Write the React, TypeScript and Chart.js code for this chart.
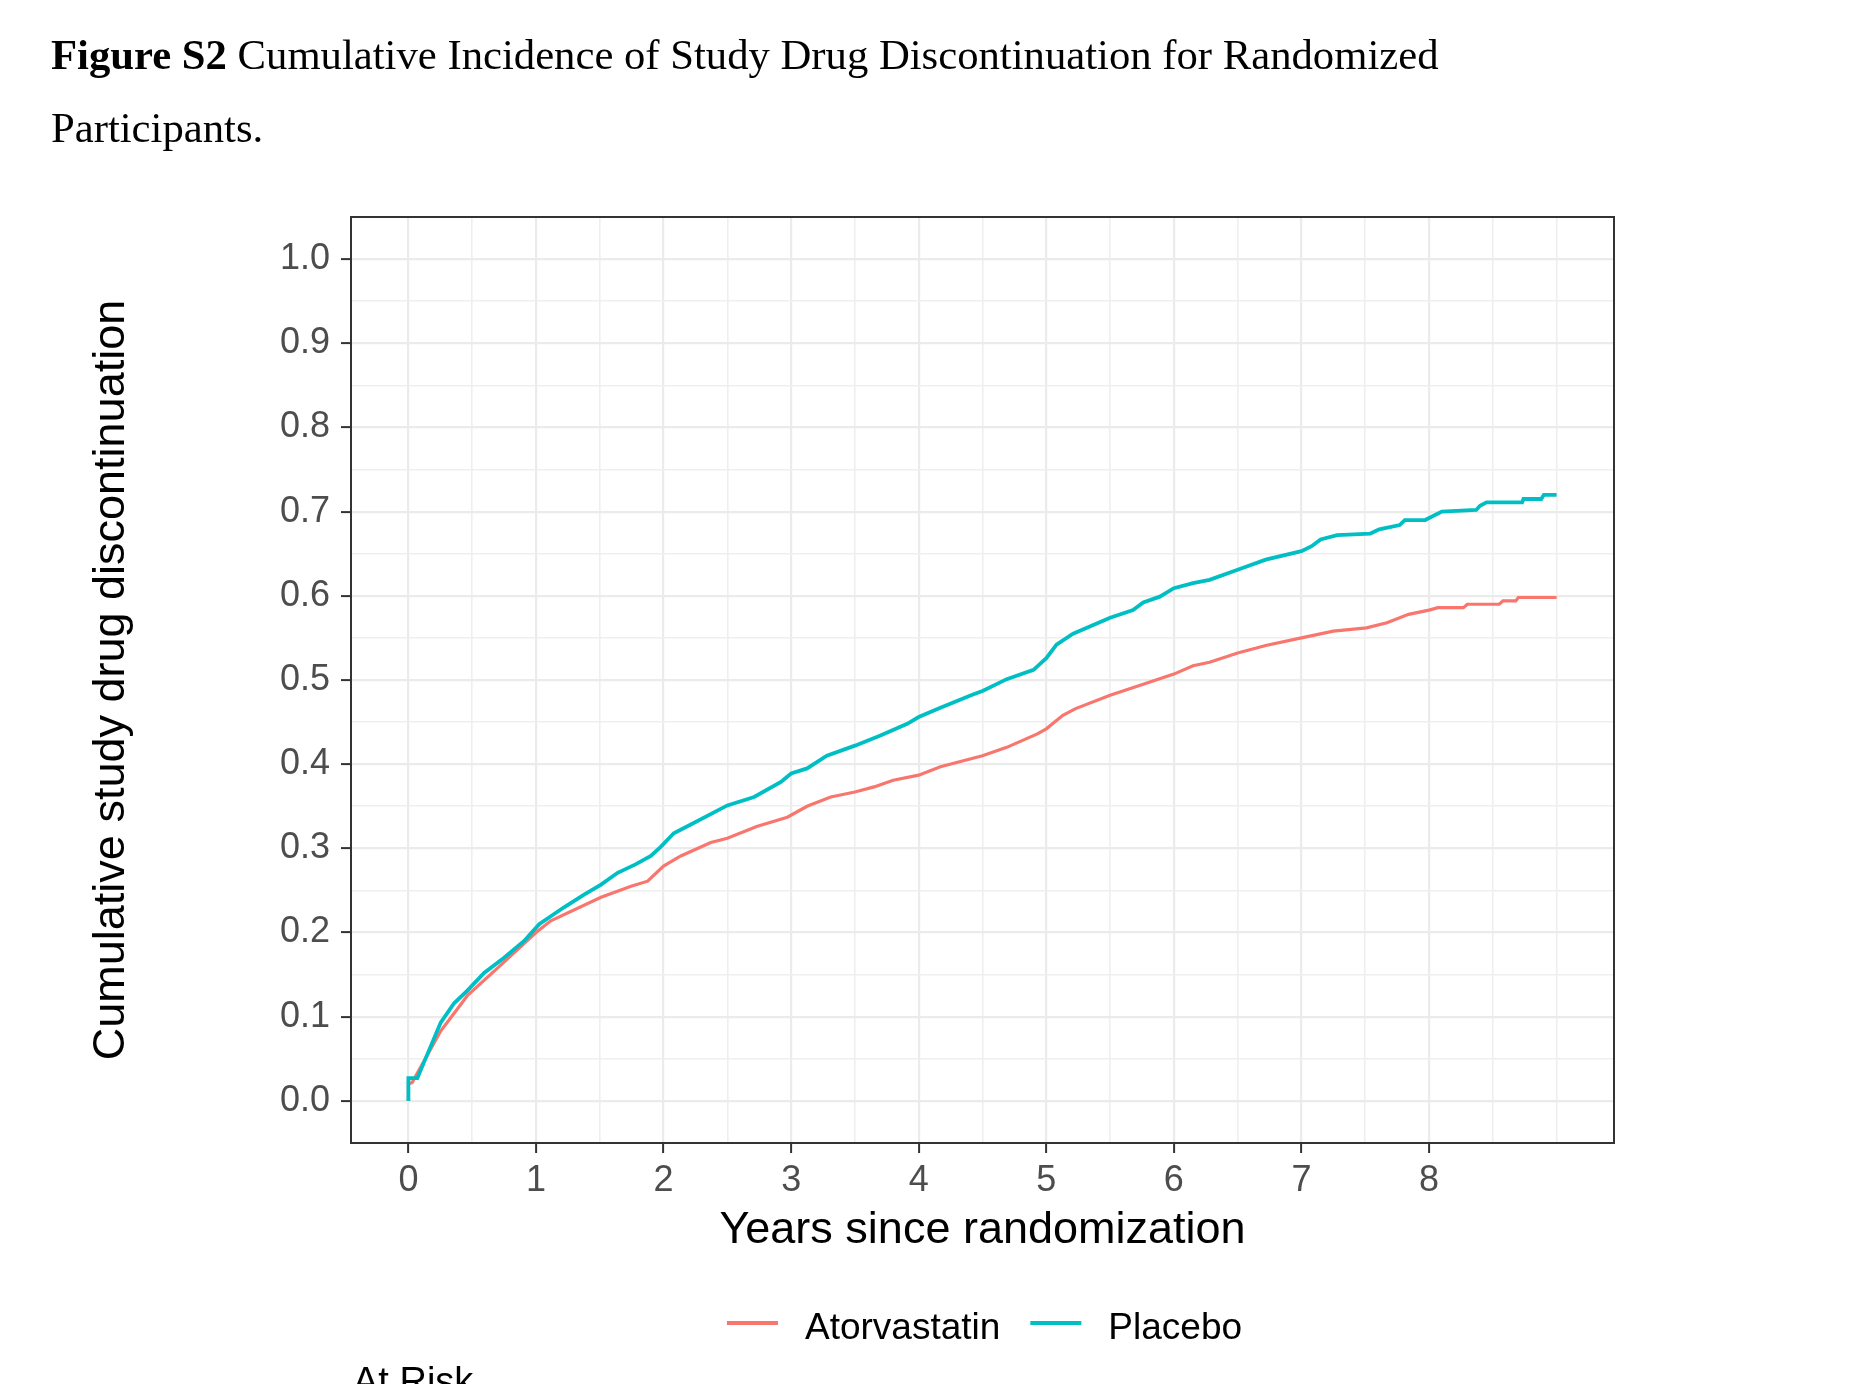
import React, { useEffect, useRef } from "react";
import { Chart, registerables } from "chart.js";

Chart.register(...registerables);

// series names / colours (ggplot defaults)
const seriesNames = ["Atorvastatin", "Placebo"];
const seriesColors = ["#F8766D", "#00BFC4"];

// cumulative incidence
const atorvastatinYears = [
  0, 0, 0.03, 0.253, 0.462, 0.7, 1.0, 1.116, 1.51, 1.745, 1.875, 2.0, 2.135, 2.37, 2.5,
  2.73, 2.97, 3.125, 3.31, 3.5, 3.65, 3.8, 4.0, 4.17, 4.5, 4.69, 4.93, 5.0, 5.13, 5.23,
  5.5, 5.76, 6.0, 6.15, 6.28, 6.5, 6.72, 7.0, 7.25, 7.51, 7.67, 7.84, 8.0, 8.07, 8.27,
  8.3, 8.55, 8.58, 8.68, 8.7, 9.0,
];
const atorvastatinIncidence = [
  0, 0.02, 0.022, 0.083, 0.125, 0.158, 0.2, 0.214, 0.242, 0.255, 0.261, 0.279, 0.291, 0.307, 0.312,
  0.326, 0.337, 0.35, 0.361, 0.367, 0.373, 0.381, 0.387, 0.397, 0.41, 0.42, 0.436, 0.442, 0.458, 0.466,
  0.482, 0.495, 0.507, 0.517, 0.521, 0.532, 0.541, 0.55, 0.558, 0.562, 0.568, 0.578, 0.583, 0.586, 0.586,
  0.59, 0.59, 0.594, 0.594, 0.598, 0.598,
];

const placeboYears = [
  0, 0, 0.07, 0.253, 0.358, 0.462, 0.593, 0.75, 0.907, 1.025, 1.22, 1.377, 1.51, 1.64, 1.78,
  1.9, 1.98, 2.08, 2.21, 2.5, 2.71, 2.92, 3.0, 3.125, 3.28, 3.5, 3.7, 3.91, 4.0, 4.17,
  4.43, 4.5, 4.69, 4.9, 5.0, 5.08, 5.21, 5.5, 5.68, 5.76, 5.89, 6.0, 6.15, 6.28, 6.5,
  6.72, 7.0, 7.08, 7.15, 7.28, 7.54, 7.61, 7.77, 7.81, 7.97, 8.1, 8.37, 8.4, 8.45, 8.73,
  8.74, 8.88, 8.9, 9.0,
];
const placeboIncidence = [
  0, 0.027, 0.027, 0.093, 0.116, 0.131, 0.152, 0.17, 0.19, 0.21, 0.23, 0.245, 0.257, 0.271, 0.281,
  0.291, 0.302, 0.318, 0.328, 0.351, 0.361, 0.379, 0.389, 0.395, 0.41, 0.422, 0.434, 0.448, 0.456, 0.467,
  0.483, 0.487, 0.501, 0.512, 0.526, 0.542, 0.555, 0.574, 0.583, 0.592, 0.599, 0.609, 0.615, 0.619, 0.631,
  0.643, 0.653, 0.659, 0.667, 0.672, 0.674, 0.679, 0.684, 0.69, 0.69, 0.7, 0.702, 0.707, 0.711, 0.711,
  0.715, 0.715, 0.72, 0.72,
];

// axis breaks
const xTickLabels = [0, 1, 2, 3, 4, 5, 6, 7, 8];
const xMinorBreaks = [0.5, 1.5, 2.5, 3.5, 4.5, 5.5, 6.5, 7.5, 8.5, 9];
const yTickLabels = [0, 0.1, 0.2, 0.3, 0.4, 0.5, 0.6, 0.7, 0.8, 0.9, 1.0];
const yMinorBreaks = [0.05, 0.15, 0.25, 0.35, 0.45, 0.55, 0.65, 0.75, 0.85, 0.95];

const sans = "'Liberation Sans', Arial, sans-serif";
const serif = "'Liberation Serif', 'Times New Roman', serif";

const toPoints = (xs: number[], ys: number[]) => xs.map((x, i) => ({ x, y: ys[i] }));
const inList = (list: number[], v: number) => list.some((t) => Math.abs(t - v) < 1e-6);

// panel border + legend under the x title
const panelPlugin = {
  id: "panelAndLegend",
  afterDraw(chart: any) {
    const { ctx, chartArea } = chart;
    ctx.save();
    ctx.strokeStyle = "#333333";
    ctx.lineWidth = 2;
    ctx.strokeRect(chartArea.left, chartArea.top, chartArea.right - chartArea.left, chartArea.bottom - chartArea.top);

    ctx.font = `37px ${sans}`;
    const lineLen = 51;
    const gapText = 27;
    const gapItem = 30;
    const items = chart.data.datasets.map((ds: any) => ({
      label: ds.label,
      color: ds.borderColor,
      width: ctx.measureText(ds.label).width,
    }));
    const total =
      items.reduce((s: number, it: any) => s + lineLen + gapText + it.width, 0) + gapItem * (items.length - 1);
    let x = (chartArea.left + chartArea.right) / 2 - total / 2 + 2;
    const lineY = chartArea.bottom + 180;
    const textY = chartArea.bottom + 196;
    items.forEach((it: any) => {
      ctx.strokeStyle = it.color;
      ctx.lineWidth = 4;
      ctx.beginPath();
      ctx.moveTo(x, lineY);
      ctx.lineTo(x + lineLen, lineY);
      ctx.stroke();
      x += lineLen + gapText;
      ctx.fillStyle = "#000000";
      ctx.textBaseline = "alphabetic";
      ctx.textAlign = "left";
      ctx.fillText(it.label, x, textY);
      x += it.width + gapItem;
    });
    ctx.restore();
  },
};

const IncidenceChart = () => {
  const canvasRef = useRef<HTMLCanvasElement>(null);

  useEffect(() => {
    if (!canvasRef.current) return;

    const datasets = [
      {
        label: seriesNames[0],
        data: toPoints(atorvastatinYears, atorvastatinIncidence),
        borderColor: seriesColors[0],
        borderWidth: 3.2,
        order: 1,
      },
      {
        label: seriesNames[1],
        data: toPoints(placeboYears, placeboIncidence),
        borderColor: seriesColors[1],
        borderWidth: 3.8,
        order: 0,
      },
    ];

    const majorGrid = (list: number[]) => (c: any) => (inList(list, c.tick.value) ? "#EBEBEB" : "#EFEFEF");
    const majorWidth = (list: number[]) => (c: any) => (inList(list, c.tick.value) ? 2.2 : 1.6);
    const tickCol = (list: number[]) => (c: any) => (inList(list, c.tick.value) ? "#333333" : "rgba(0,0,0,0)");

    const chart = new Chart(canvasRef.current, {
      type: "line",
      data: { datasets },
      plugins: [panelPlugin],
      options: {
        responsive: false,
        animation: false,
        events: [],
        layout: { padding: { top: 217, right: 240, left: 60, bottom: 126 } },
        elements: { point: { radius: 0 }, line: { tension: 0, borderCapStyle: "butt" } },
        plugins: { legend: { display: false }, tooltip: { enabled: false } },
        scales: {
          x: {
            type: "linear",
            min: -0.45,
            max: 9.45,
            afterBuildTicks: (scale: any) => {
              scale.ticks = [...xTickLabels, ...xMinorBreaks].sort((a, b) => a - b).map((v) => ({ value: v }));
            },
            afterFit: (scale: any) => {
              scale.height = 115;
            },
            border: { display: false },
            grid: {
              color: majorGrid(xTickLabels),
              lineWidth: majorWidth(xTickLabels),
              tickColor: tickCol(xTickLabels),
              tickLength: 10,
              tickWidth: 2,
            },
            ticks: {
              autoSkip: false,
              maxRotation: 0,
              padding: 6,
              color: "#4D4D4D",
              font: { family: sans, size: 36 },
              callback: (v: any) => (inList(xTickLabels, Number(v)) ? String(v) : ""),
            },
            title: {
              display: true,
              text: "Years since randomization",
              color: "#000000",
              font: { family: sans, size: 45, lineHeight: 1.2 },
              padding: { top: 0, bottom: 0 },
            },
          },
          y: {
            type: "linear",
            min: -0.05,
            max: 1.05,
            afterBuildTicks: (scale: any) => {
              scale.ticks = [...yTickLabels, ...yMinorBreaks].sort((a, b) => a - b).map((v) => ({ value: v }));
            },
            afterFit: (scale: any) => {
              scale.width = 291;
            },
            border: { display: false },
            grid: {
              color: majorGrid(yTickLabels),
              lineWidth: majorWidth(yTickLabels),
              tickColor: tickCol(yTickLabels),
              tickLength: 10,
              tickWidth: 2,
            },
            ticks: {
              autoSkip: false,
              padding: 11,
              color: "#4D4D4D",
              font: { family: sans, size: 36 },
              callback: (v: any) => (inList(yTickLabels, Number(v)) ? Number(v).toFixed(1) : ""),
            },
            title: {
              display: true,
              text: "Cumulative study drug discontinuation",
              color: "#000000",
              font: { family: sans, size: 45, lineHeight: 1.2 },
              padding: { top: 25, bottom: 0 },
            },
          },
        },
      } as any,
    });

    return () => {
      chart.destroy();
    };
  }, []);

  return (
    <canvas
      ref={canvasRef}
      width={1854}
      height={1384}
      style={{ position: "absolute", left: 0, top: 0, width: 1854, height: 1384 }}
    />
  );
};

export default function App() {
  const titleLine = {
    position: "absolute" as const,
    left: 51,
    fontFamily: serif,
    fontSize: 42.7,
    lineHeight: "43px",
    whiteSpace: "nowrap" as const,
    color: "#000",
  };
  return (
    <div
      style={{
        position: "absolute",
        left: 0,
        top: 0,
        width: 1854,
        height: 1384,
        overflow: "hidden",
        background: "#ffffff",
      }}
    >
      <IncidenceChart />
      <div style={{ ...titleLine, top: 33 }}>
        <b>Figure S2</b> Cumulative Incidence of Study Drug Discontinuation for Randomized
      </div>
      <div style={{ ...titleLine, top: 106 }}>Participants.</div>
      <div
        style={{
          position: "absolute",
          left: 353,
          top: 1362,
          fontFamily: sans,
          fontSize: 38,
          lineHeight: "38px",
          whiteSpace: "nowrap",
          color: "#000",
        }}
      >
        At Risk
      </div>
    </div>
  );
}
